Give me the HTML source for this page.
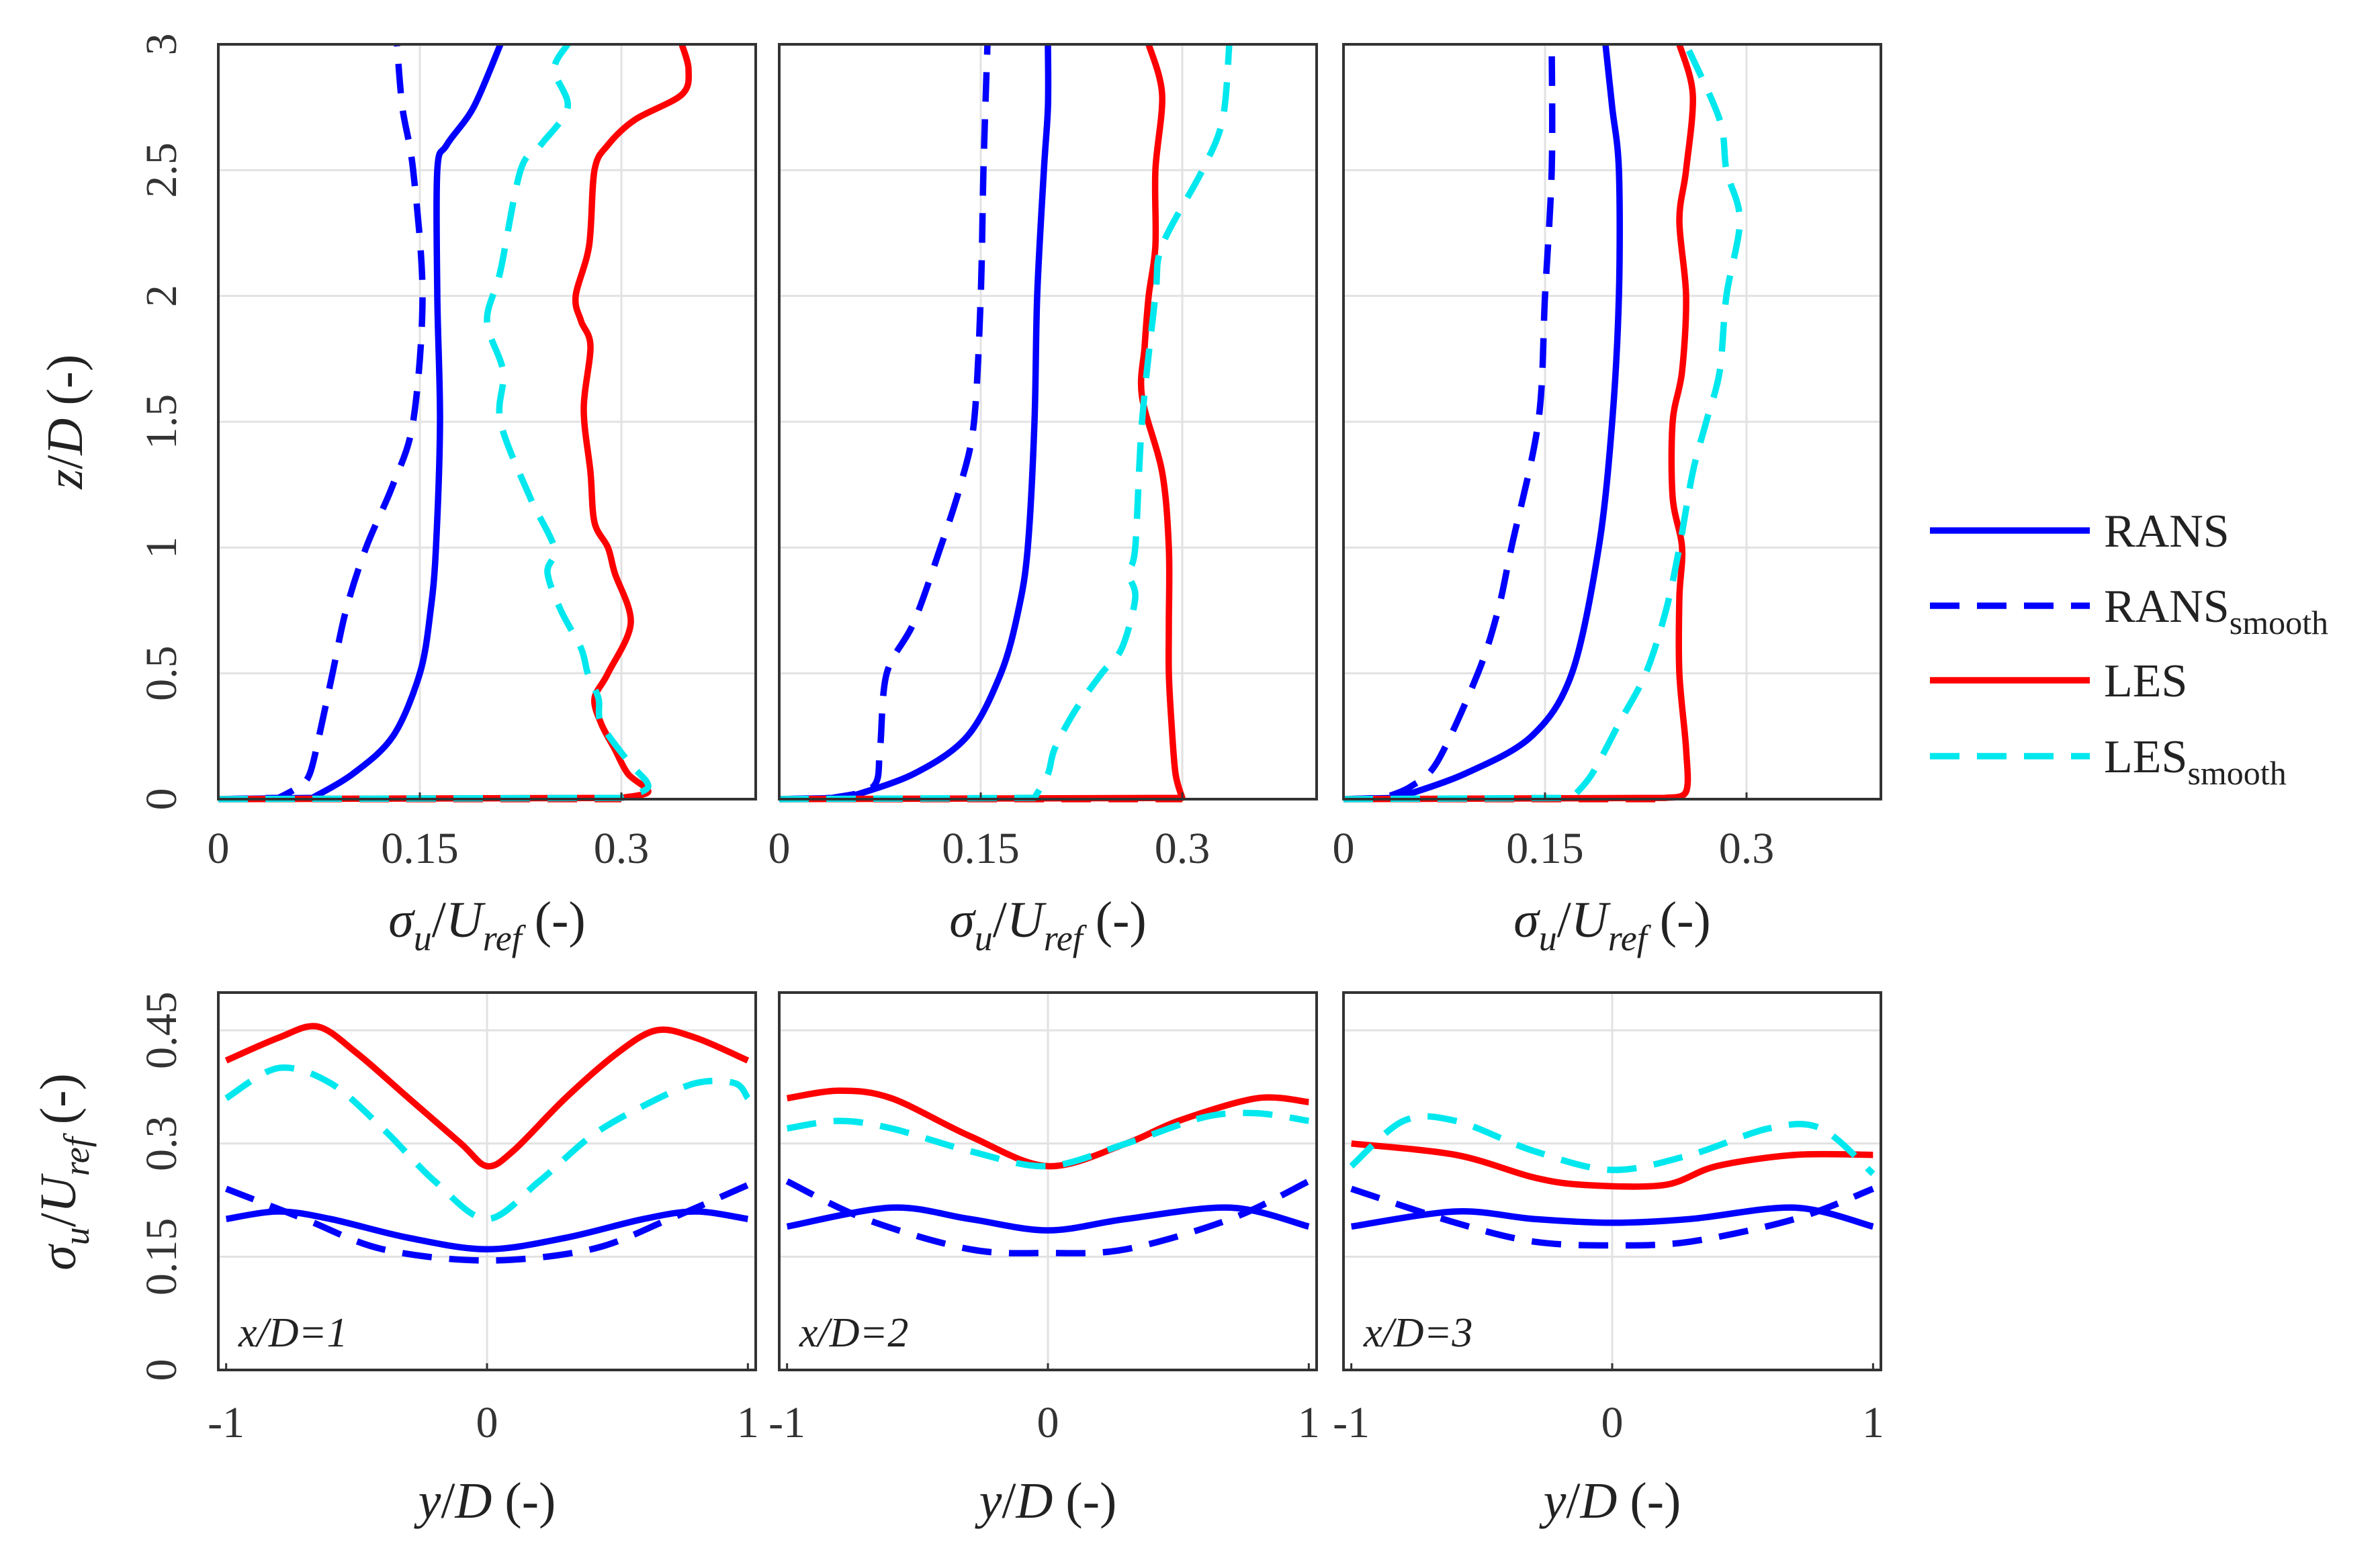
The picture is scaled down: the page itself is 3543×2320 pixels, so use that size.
<!DOCTYPE html>
<html><head><meta charset="utf-8">
<style>
html,body{margin:0;padding:0;background:#fff;}
svg{display:block;font-family:"Liberation Serif",serif;}
</style></head>
<body>
<svg id="fig" width="3543" height="2320" viewBox="0 0 3543 2320" xmlns="http://www.w3.org/2000/svg"></svg>
<script>
// ---- data: top panels (sigma_u/U_ref vs z/D) ----
const topZ1 = {
 ransZ:[0,0.005,0.1,0.25,0.5,0.75,1,1.5,2,2.5,2.6,2.75,3],
 rans:[0,0.07,0.1,0.13,0.15,0.158,0.162,0.165,0.163,0.163,0.17,0.19,0.21],
 ransSZ:[0,0.005,0.05,0.1,0.25,0.5,0.75,1,1.25,1.5,2,2.5,2.75,3],
 ransS:[0,0.045,0.06,0.068,0.075,0.085,0.095,0.11,0.13,0.145,0.152,0.145,0.137,0.133],
 lesZ:[0,0.005,0.03,0.1,0.2,0.3,0.4,0.5,0.7,0.9,1.0,1.1,1.3,1.55,1.8,1.9,2.0,2.2,2.5,2.6,2.7,2.8,2.9,3],
 les:[0,0.3,0.32,0.305,0.295,0.285,0.28,0.29,0.307,0.295,0.29,0.28,0.277,0.272,0.277,0.27,0.266,0.276,0.28,0.29,0.31,0.345,0.35,0.345],
 lesSZ:[0,0.005,0.05,0.15,0.3,0.4,0.5,0.6,0.75,0.9,1.0,1.2,1.5,1.7,1.9,2.1,2.5,2.6,2.75,2.9,3],
 lesS:[0,0.3,0.32,0.305,0.285,0.283,0.275,0.27,0.255,0.245,0.25,0.232,0.21,0.212,0.2,0.21,0.225,0.24,0.26,0.25,0.26]
};
const topZ2 = {
 ransZ:[0,0.005,0.1,0.25,0.5,0.75,1,1.5,2,2.5,2.75,3],
 rans:[0,0.05,0.1,0.14,0.165,0.178,0.185,0.19,0.192,0.197,0.2,0.2],
 ransSZ:[0,0.005,0.05,0.2,0.5,0.7,1,1.25,1.5,2,2.5,3],
 ransS:[0,0.04,0.07,0.075,0.08,0.1,0.12,0.135,0.145,0.15,0.152,0.155],
 lesZ:[0,0.005,0.1,0.3,0.5,0.7,1,1.3,1.6,1.8,2,2.2,2.5,2.8,3],
 les:[0,0.3,0.295,0.292,0.29,0.29,0.29,0.285,0.27,0.272,0.275,0.28,0.28,0.285,0.275],
 lesSZ:[0,0.005,0.1,0.2,0.35,0.5,0.6,0.8,0.9,1.0,1.5,2.0,2.2,2.5,2.7,3],
 lesS:[0,0.19,0.2,0.205,0.22,0.24,0.255,0.265,0.26,0.265,0.27,0.28,0.285,0.315,0.33,0.335]
};
const topZ3 = {
 ransZ:[0,0.005,0.1,0.25,0.5,1,1.5,2,2.5,2.75,3],
 rans:[0,0.04,0.09,0.14,0.17,0.19,0.2,0.205,0.205,0.2,0.195],
 ransSZ:[0,0.005,0.05,0.15,0.5,0.75,1,1.5,2,2.5,3],
 ransS:[0,0.03,0.05,0.07,0.1,0.115,0.125,0.145,0.15,0.155,0.155],
 lesZ:[0,0.005,0.03,0.2,0.5,0.8,1.0,1.2,1.5,1.7,2.0,2.3,2.5,2.8,3],
 les:[0,0.24,0.255,0.255,0.25,0.25,0.252,0.245,0.245,0.252,0.255,0.25,0.255,0.26,0.25],
 lesSZ:[0,0.005,0.1,0.3,0.5,0.75,1,1.3,1.5,1.7,2,2.3,2.5,2.7,3],
 lesS:[0,0.17,0.185,0.205,0.225,0.24,0.25,0.26,0.27,0.28,0.285,0.295,0.285,0.28,0.255]
};
// ---- data: bottom panels (sigma_u/U_ref vs y/D) ----
const bot1 = {
 lesY:[-1,-0.8,-0.65,-0.5,-0.3,-0.1,0,0.1,0.3,0.5,0.65,0.8,1],
 les:[0.41,0.44,0.455,0.42,0.36,0.3,0.27,0.29,0.36,0.42,0.45,0.44,0.41],
 lesSY:[-1,-0.8,-0.6,-0.4,-0.2,0,0.2,0.4,0.6,0.8,0.95,1],
 lesS:[0.36,0.4,0.38,0.32,0.25,0.2,0.25,0.31,0.35,0.38,0.38,0.36],
 ransY:[-1,-0.8,-0.6,-0.3,0,0.3,0.6,0.8,1],
 rans:[0.2,0.21,0.2,0.175,0.16,0.175,0.2,0.21,0.2],
 ransSY:[-1,-0.7,-0.4,0,0.4,0.7,1],
 ransS:[0.24,0.2,0.16,0.145,0.16,0.2,0.245]
};
const bot2 = {
 lesY:[-1,-0.8,-0.6,-0.3,0,0.3,0.5,0.8,1],
 les:[0.36,0.37,0.36,0.31,0.27,0.3,0.33,0.36,0.355],
 lesSY:[-1,-0.8,-0.6,-0.3,0,0.3,0.6,0.8,1],
 lesS:[0.32,0.33,0.32,0.29,0.27,0.3,0.335,0.34,0.33],
 ransY:[-1,-0.6,-0.3,0,0.3,0.7,1],
 rans:[0.19,0.215,0.2,0.185,0.2,0.215,0.19],
 ransSY:[-1,-0.7,-0.3,0,0.3,0.7,1],
 ransS:[0.25,0.2,0.16,0.155,0.16,0.2,0.25]
};
const bot3 = {
 lesY:[-1,-0.6,-0.3,-0.1,0.2,0.4,0.7,1],
 les:[0.3,0.285,0.255,0.245,0.245,0.27,0.285,0.285],
 lesSY:[-1,-0.8,-0.6,-0.3,0,0.3,0.6,0.8,1],
 lesS:[0.27,0.33,0.33,0.29,0.265,0.285,0.32,0.32,0.26],
 ransY:[-1,-0.6,-0.3,0,0.3,0.7,1],
 rans:[0.19,0.21,0.2,0.195,0.2,0.215,0.19],
 ransSY:[-1,-0.6,-0.3,0,0.3,0.7,1],
 ransS:[0.24,0.195,0.17,0.165,0.17,0.2,0.24]
};
const topXTicks = [0,0.15,0.3];
const topXTickLabels = ["0","0.15","0.3"];
const topYTicks = [0,0.5,1,1.5,2,2.5,3];
const topYTickLabels = ["0","0.5","1","1.5","2","2.5","3"];
const botXTicks = [-1,0,1];
const botXTickLabels = ["-1","0","1"];
const botYTicks = [0,0.15,0.3,0.45];
const botYTickLabels = ["0","0.15","0.3","0.45"];
const panelLabels = ["x/D=1","x/D=2","x/D=3"];

const NS="http://www.w3.org/2000/svg";
const svg=document.getElementById('fig');
function mk(tag,attrs,parent){const e=document.createElementNS(NS,tag);for(const k in attrs)e.setAttribute(k,attrs[k]);(parent||svg).appendChild(e);return e;}
const BLUE="#0000ff", RED="#ff0000", CYAN="#00e8ee";
const LW=9.5, DASH="44 26";
const panelsX=[[325,1125],[1160,1960],[2000,2800]];
const TOP=[66,1190], BOT=[1478,2040];
const TICKFS=66, LABFS=76;

function smoothSeg(P){
  let d="";
  for(let i=0;i<P.length-1;i++){
    const p0=P[Math.max(i-1,0)],p1=P[i],p2=P[i+1],p3=P[Math.min(i+2,P.length-1)];
    const t=0.16;
    const c1=[p1[0]+(p2[0]-p0[0])*t,p1[1]+(p2[1]-p0[1])*t];
    const c2=[p2[0]-(p3[0]-p1[0])*t,p2[1]-(p3[1]-p1[1])*t];
    d+=` C${c1[0].toFixed(1)},${c1[1].toFixed(1)} ${c2[0].toFixed(1)},${c2[1].toFixed(1)} ${p2[0].toFixed(1)},${p2[1].toFixed(1)}`;
  }
  return d;
}
function drawLine(g,xs,ys,sx,sy,color,dashed,name,straightStart){
  const P=xs.map((v,i)=>[sx(v),sy(ys[i])]);
  let d;
  if(straightStart && P.length>2){
    d="M"+P[0][0].toFixed(1)+","+P[0][1].toFixed(1)+" L"+P[1][0].toFixed(1)+","+P[1][1].toFixed(1)+smoothSeg(P.slice(1));
  } else {
    d="M"+P[0][0].toFixed(1)+","+P[0][1].toFixed(1)+smoothSeg(P);
  }
  const p=mk('path',{d:d,fill:'none',stroke:color,'stroke-width':LW,'stroke-linejoin':'round','stroke-linecap':'butt'},g);
  if(dashed)p.setAttribute('stroke-dasharray',DASH);
  
  
}
function ylabelSigma(x,y,rot,name){
  const t=mk('text',{x:x,y:y,'font-size':LABFS,'text-anchor':'middle',fill:'#222',transform:rot?`rotate(-90 ${x} ${y})`:''});
  
  t.innerHTML='<tspan font-style="italic">σ</tspan><tspan font-style="italic" font-size="54" dy="20">u</tspan><tspan dy="-20">/</tspan><tspan font-style="italic">U</tspan><tspan font-style="italic" font-size="54" dy="20">ref</tspan><tspan dy="-20"> (-)</tspan>';
}
// top panels
[topZ1,topZ2,topZ3].forEach((d,i)=>{
  const [x0,x1]=panelsX[i];
  const sx=v=>x0+(v/0.4)*(x1-x0);
  const sy=v=>TOP[1]-(v/3)*(TOP[1]-TOP[0]);
  const g=mk('g',{});
  
  
  topYTicks.forEach(t=>{if(t>0&&t<3)mk('line',{x1:x0,x2:x1,y1:sy(t),y2:sy(t),stroke:'#e2e2e2','stroke-width':3},g);});
  topXTicks.forEach(t=>{if(t>0)mk('line',{x1:sx(t),x2:sx(t),y1:TOP[0],y2:TOP[1],stroke:'#e2e2e2','stroke-width':3},g);});
  drawLine(g,d.rans,d.ransZ,sx,sy,BLUE,false,'rans-line',true);
  drawLine(g,d.ransS,d.ransSZ,sx,sy,BLUE,true,'rans-smooth-line',true);
  drawLine(g,d.les,d.lesZ,sx,sy,RED,false,'les-line',true);
  drawLine(g,[0,d.les[1]],[0,0],sx,sy,RED,true,'les-base-line',true);
  drawLine(g,d.lesS,d.lesSZ,sx,sy,CYAN,true,'les-smooth-line',true);
  mk('rect',{x:x0,y:TOP[0],width:x1-x0,height:TOP[1]-TOP[0],fill:'none',stroke:'#333','stroke-width':4},g);
  topXTicks.forEach((t,k)=>{
    mk('line',{x1:sx(t),x2:sx(t),y1:TOP[1],y2:TOP[1]-10,stroke:'#333','stroke-width':3},g);
    const tx=mk('text',{x:sx(t),y:1285,'font-size':TICKFS,'text-anchor':'middle',fill:'#333'},g);
    tx.textContent=topXTickLabels[k];
    
  });
  if(i===0){
    topYTicks.forEach((t,k)=>{
      const yy=sy(t);
      const tx=mk('text',{x:262,y:yy,'font-size':TICKFS,'text-anchor':'middle',fill:'#333',transform:`rotate(-90 262 ${yy})`},g);
      tx.textContent=topYTickLabels[k];
      
    });
    const yl=mk('text',{x:122,y:628,'font-size':LABFS,'text-anchor':'middle',fill:'#222',transform:'rotate(-90 122 628)'},g);
    yl.innerHTML='<tspan font-style="italic">z</tspan>/<tspan font-style="italic">D</tspan> (-)';
    
  }
  ylabelSigma((x0+x1)/2,1395,false,'x-axis-title');
});
// bottom panels
[bot1,bot2,bot3].forEach((d,i)=>{
  const [x0,x1]=panelsX[i];
  const sx=v=>x0+((v+1.03)/2.06)*(x1-x0);
  const sy=v=>BOT[1]-(v/0.5)*(BOT[1]-BOT[0]);
  const g=mk('g',{});
  
  
  botYTicks.forEach(t=>{if(t>0)mk('line',{x1:x0,x2:x1,y1:sy(t),y2:sy(t),stroke:'#e2e2e2','stroke-width':3},g);});
  mk('line',{x1:sx(0),x2:sx(0),y1:BOT[0],y2:BOT[1],stroke:'#e2e2e2','stroke-width':3},g);
  drawLine(g,d.lesY,d.les,sx,sy,RED,false,'les-line',false);
  drawLine(g,d.lesSY,d.lesS,sx,sy,CYAN,true,'les-smooth-line',false);
  drawLine(g,d.ransY,d.rans,sx,sy,BLUE,false,'rans-line',false);
  drawLine(g,d.ransSY,d.ransS,sx,sy,BLUE,true,'rans-smooth-line',false);
  mk('rect',{x:x0,y:BOT[0],width:x1-x0,height:BOT[1]-BOT[0],fill:'none',stroke:'#333','stroke-width':4},g);
  botXTicks.forEach((t,k)=>{
    mk('line',{x1:sx(t),x2:sx(t),y1:BOT[1],y2:BOT[1]-10,stroke:'#333','stroke-width':3},g);
    const tx=mk('text',{x:sx(t),y:2140,'font-size':TICKFS,'text-anchor':'middle',fill:'#333'},g);
    tx.textContent=botXTickLabels[k];
    
  });
  const pl=mk('text',{x:x0+30,y:2005,'font-size':62,'font-style':'italic',fill:'#222'},g);
  pl.textContent=panelLabels[i];
  
  const xl=mk('text',{x:(x0+x1)/2,y:2260,'font-size':LABFS,'text-anchor':'middle',fill:'#222'},g);
  xl.innerHTML='<tspan font-style="italic">y</tspan>/<tspan font-style="italic">D</tspan> (-)';
  
  if(i===0){
    botYTicks.forEach((t,k)=>{
      const yy=sy(t);
      const tx=mk('text',{x:262,y:yy,'font-size':TICKFS,'text-anchor':'middle',fill:'#333',transform:`rotate(-90 262 ${yy})`},g);
      tx.textContent=botYTickLabels[k];
      
    });
    ylabelSigma(112,1745,true,'y-axis-title');
  }
});
// legend
const legend=mk('g',{});


const legItems=[["RANS",BLUE,false,""],["RANS",BLUE,true,"smooth"],["LES",RED,false,""],["LES",CYAN,true,"smooth"]];
const legY=[790,902,1013,1126];
legItems.forEach((it,k)=>{
  const ln=mk('line',{x1:2873,x2:3111,y1:legY[k],y2:legY[k],stroke:it[1],'stroke-width':LW},legend);
  if(it[2])ln.setAttribute('stroke-dasharray',DASH);
  
  const tx=mk('text',{x:3132,y:legY[k]+24,'font-size':70,fill:'#222'},legend);
  tx.innerHTML=it[0]+(it[3]?'<tspan font-size="50" dy="18">'+it[3]+'</tspan>':'');
  
});
</script>
</body></html>
